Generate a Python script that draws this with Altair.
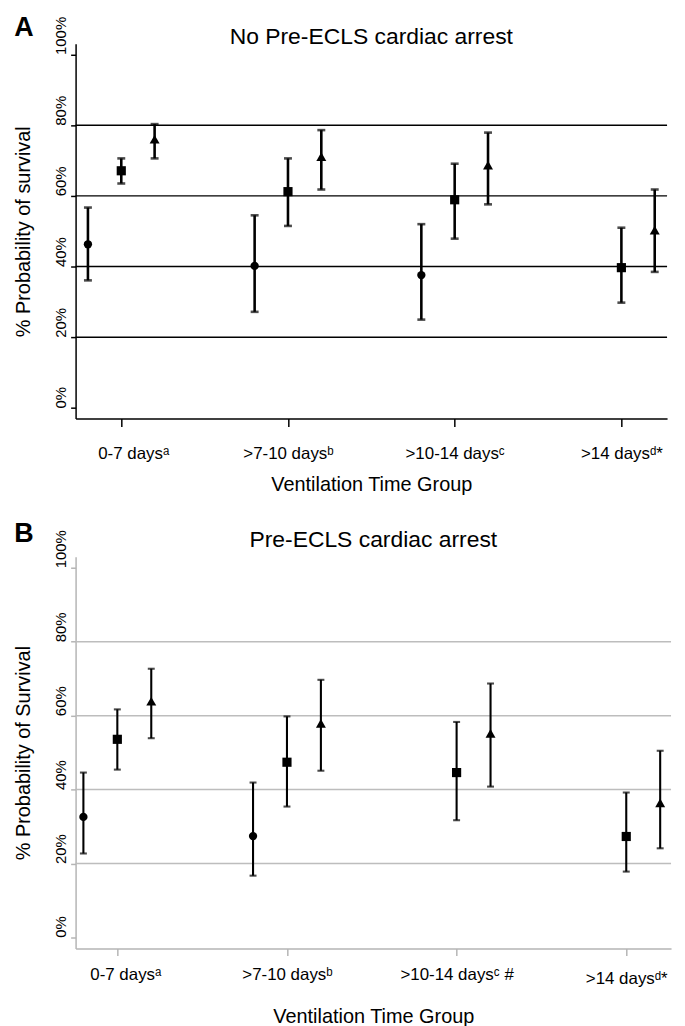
import json
import altair as alt
import pandas as pd

FONT = "Liberation Sans"

# ---------------- data ----------------
groups_a = ["0-7 days\u1d43", ">7-10 days\u1d47", ">10-14 days\u1d9c", ">14 days\u1d48*"]
groups_b = ["0-7 days\u1d43", ">7-10 days\u1d47", ">10-14 days\u1d9c #", ">14 days\u1d48*"]
series = ["circle", "square", "triangle"]

# Panel A: No Pre-ECLS cardiac arrest
a_circle_est = [46.3, 40.2, 37.6, None]
a_circle_lo = [36.1, 27.2, 25.0, None]
a_circle_hi = [56.7, 54.5, 52.0, None]
a_square_est = [67.1, 61.2, 58.9, 39.7]
a_square_lo = [63.5, 51.5, 47.9, 29.8]
a_square_hi = [70.6, 70.6, 69.1, 51.0]
a_tri_est = [76.0, 71.1, 68.7, 50.3]
a_tri_lo = [70.6, 61.8, 57.6, 38.5]
a_tri_hi = [80.3, 78.6, 77.9, 61.8]

# Panel B: Pre-ECLS cardiac arrest
b_circle_est = [32.6, 27.4, None, None]
b_circle_lo = [22.7, 16.7, None, None]
b_circle_hi = [44.6, 41.9, None, None]
b_square_est = [53.6, 47.4, 44.6, 27.3]
b_square_lo = [45.4, 35.4, 31.7, 17.8]
b_square_hi = [61.7, 59.8, 58.3, 39.2]
b_tri_est = [63.9, 57.9, 55.2, 36.4]
b_tri_lo = [53.9, 45.1, 40.8, 24.1]
b_tri_hi = [72.7, 69.7, 68.7, 50.5]

grid_values = [20, 40, 60, 80]
y_ticks = [0, 20, 40, 60, 80, 100]

OFFSETS = {"circle": -0.2, "square": 0.0, "triangle": 0.2}


def build(groups, est_lists, lo_lists, hi_lists):
    rows = []
    for s, est, lo, hi in zip(series, est_lists, lo_lists, hi_lists):
        for i, g in enumerate(groups):
            if est[i] is None:
                continue
            rows.append({"group": g, "gi": i + 1, "series": s,
                         "x": i + 1 + OFFSETS[s],
                         "est": est[i], "lo": lo[i], "hi": hi[i]})
    return pd.DataFrame(rows)


df_a = build(groups_a, [a_circle_est, a_square_est, a_tri_est],
             [a_circle_lo, a_square_lo, a_tri_lo], [a_circle_hi, a_square_hi, a_tri_hi])
df_b = build(groups_b, [b_circle_est, b_square_est, b_tri_est],
             [b_circle_lo, b_square_lo, b_tri_lo], [b_circle_hi, b_square_hi, b_tri_hi])
grid_df = pd.DataFrame({"v": grid_values})


def panel(df, groups, title, letter, width, height, xdom, grid_color, axis_color,
          x_tick_color, pt_sizes, cap, y_title, bar_w, x_tick, x_lpad, x_tpad,
          title_y, letter_y, first_shift, last_pad):
    label_expr = "%s[datum.value - 1]" % json.dumps(groups, ensure_ascii=False)
    xs = alt.Scale(domain=xdom, nice=False, zero=False)
    ys = alt.Scale(domain=[-3, 103], nice=False, zero=False)
    x_axis = alt.Axis(values=[1, 2, 3, 4], labelExpr=label_expr, grid=False,
                      domainColor=axis_color, domainWidth=1.5,
                      tickColor=x_tick_color, tickSize=x_tick, tickWidth=1.5,
                      labelFontSize=17, labelColor="black",
                      labelPadding={"condition": {"test": "datum.value === 4",
                                                  "value": x_lpad + last_pad},
                                    "value": x_lpad},
                      labelOffset={"condition": {"test": "datum.value === 1",
                                                 "value": first_shift},
                                   "value": 0},
                      labelFont=FONT,
                      title="Ventilation Time Group", titleFontSize=20,
                      titleFontWeight="normal", titleFont=FONT, titleColor="black",
                      titlePadding=x_tpad)
    y_axis = alt.Axis(values=y_ticks, labelExpr="datum.value + '%'", grid=False,
                      domainColor=axis_color, domainWidth=1.5,
                      tickColor=axis_color, tickSize=5, tickWidth=1.5,
                      labelAngle=270, labelAlign="left", labelBaseline="middle",
                      labelFontSize=15, labelColor="black", labelPadding=10,
                      labelFont=FONT,
                      title=y_title, titleFontSize=20, titleFontWeight="normal",
                      titleFont=FONT, titleColor="black", titlePadding=20)

    X = lambda f: alt.X(f, scale=xs, axis=x_axis, title="Ventilation Time Group")
    Y = lambda f: alt.Y(f, scale=ys, axis=y_axis, title=y_title)

    base = alt.Chart(df)
    grid = alt.Chart(grid_df).mark_rule(color=grid_color, strokeWidth=1.5).encode(
        y=Y("v:Q"))
    bars = base.mark_rule(color="black", strokeWidth=bar_w).encode(
        x=X("x:Q"), y=Y("lo:Q"), y2="hi:Q")
    cap_lo = base.mark_tick(color="black", orient="horizontal", size=cap,
                            thickness=bar_w).encode(x=X("x:Q"), y=Y("lo:Q"))
    cap_hi = base.mark_tick(color="black", orient="horizontal", size=cap,
                            thickness=bar_w).encode(x=X("x:Q"), y=Y("hi:Q"))
    pts = base.mark_point(filled=True, opacity=1, color="black").encode(
        x=X("x:Q"), y=Y("est:Q"),
        shape=alt.Shape("series:N", scale=alt.Scale(domain=series,
                        range=["circle", "square", "triangle-up"]), legend=None),
        size=alt.Size("series:N", scale=alt.Scale(domain=series, range=pt_sizes),
                      legend=None))
    lab = alt.Chart(pd.DataFrame({"t": [letter]})).mark_text(
        font=FONT, fontSize=27, fontWeight="bold", align="center",
        baseline="alphabetic", color="black").encode(
        text="t:N", x=alt.value(-52), y=alt.value(letter_y))
    ttl = alt.Chart(pd.DataFrame({"t": [title]})).mark_text(
        font=FONT, fontSize=23, fontWeight="normal", align="center",
        baseline="alphabetic", color="black").encode(
        text="t:N", x=alt.value(width / 2), y=alt.value(title_y))
    return alt.layer(grid, bars, cap_lo, cap_hi, pts, lab, ttl).properties(
        width=width, height=height)


chart_a = panel(df_a, groups_a, "No Pre-ECLS cardiac arrest", "A", 595, 377,
                [0.726, 4.274], "black", "black", "black", [70, 100, 100], 8,
                "% Probability of survival", 2.6, 8, 19, 13, 0, -8, 12, 0)
chart_b = panel(df_b, groups_b, "Pre-ECLS cardiac arrest", "B", 599, 394,
                [0.754, 4.264], "#bdbdbd", "#b5b5b5", "#b5b5b5", [55, 60, 70], 7,
                "% Probability of Survival", 2.1, 7, 11, 20, -10, -15, 8, 4)

chart = alt.vconcat(chart_a, chart_b, spacing=26).properties(
    padding={"left": 5, "top": 3, "right": 5, "bottom": 5}).configure(
    font=FONT).configure_view(stroke=None)

chart.save("out.html", embed_options={"renderer": "svg", "actions": False})
